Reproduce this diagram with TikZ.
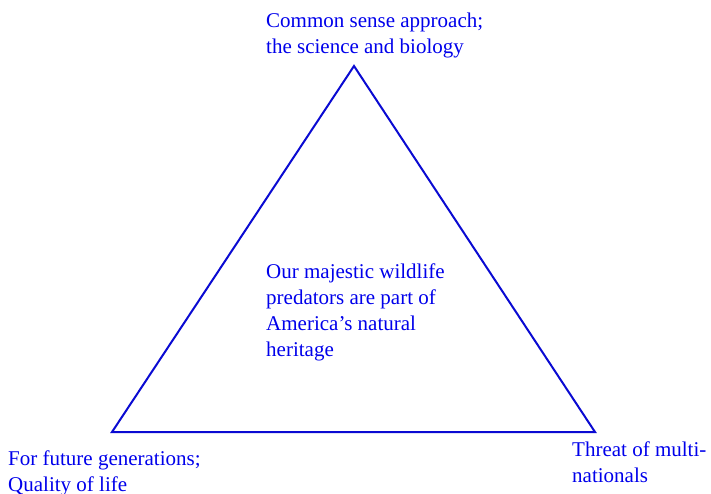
\documentclass[tikz,border=0pt]{standalone}
\usepackage{fontspec}
\setmainfont{Liberation Serif}
\definecolor{lineblue}{RGB}{10,10,210}
\definecolor{textblue}{RGB}{0,0,235}
\begin{document}
\begin{tikzpicture}[x=1pt,y=-1pt,
  label/.style={text=textblue, font=\fontsize{21}{26}\selectfont, align=left, inner sep=0pt, anchor=north west},
  edge/.style={draw=lineblue, line width=2pt, line join=miter}]
\useasboundingbox (0,0) rectangle (711,493);
\coordinate (top) at (354,66);
\coordinate (left) at (112,432);
\coordinate (right) at (595,432);
\draw[edge] (top) -- (left) -- (right) -- cycle;
\node[label] (science) at (266,12.5) {Common sense approach;\\the science and biology};
\node[label] (center) at (266,263.5) {Our majestic wildlife\\predators are part of\\America’s natural\\heritage};
\node[label] (future) at (8,451) {For future generations;\\Quality of life};
\node[label] (threat) at (572,442) {Threat of multi-\\nationals};
\end{tikzpicture}
\end{document}
